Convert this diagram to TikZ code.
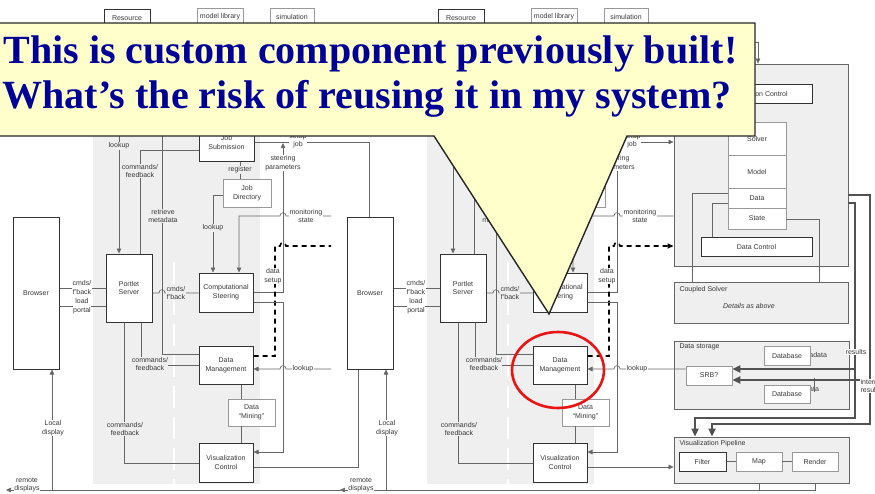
\documentclass[tikz,border=0pt]{standalone}
\usepackage{fontspec}
\setmainfont{Liberation Sans}
\newfontfamily\calloutfam{Liberation Serif}
\usetikzlibrary{arrows.meta}
\definecolor{bandc}{RGB}{239,239,239}
\definecolor{callfill}{RGB}{255,255,204}
\definecolor{calltext}{RGB}{0,0,153}
\definecolor{ringred}{RGB}{235,20,20}
\newcommand\dgmfont{\fontsize{7}{8.8}\selectfont}
\newcommand\callfont{\calloutfam\bfseries\fontsize{40}{41}\selectfont}
\newcommand\mybox[7]{\node[#1, minimum width={(#5)-(#3)}, minimum height={(#6)-(#4)}] (#2) at ({((#3)+(#5))/2},{((#4)+(#6))/2}) {#7};}
\newcommand\rt[1]{#1}
\tikzset{
  dtext/.style={font=\dgmfont, text=black!78, align=center},
  bx/.style={draw=black!80, line width=1pt, fill=white, dtext, inner sep=0pt},
  lbx/.style={draw=black!40, line width=0.7pt, fill=white, dtext, inner sep=0pt},
  gbx/.style={draw=black!60, line width=0.9pt, fill=bandc, inner sep=0pt},
  conn/.style={draw=black!60, line width=0.6pt},
  arr/.style={conn, -{Triangle[length=5pt,width=4.5pt]}},
  lbl/.style={dtext, fill=white, inner sep=0.4pt},
  lblg/.style={dtext, fill=bandc, inner sep=0.4pt},
  dsh/.style={draw=black, line width=1.6pt, dash pattern=on 5pt off 4pt},
  thk/.style={draw=black!68, line width=2.2pt},
  thkarr/.style={thk, -{Triangle[length=8pt,width=7pt]}},
  callout/.style={draw=black!85, line width=1.4pt, fill=callfill},
  ctext/.style={font=\callfont, text=calltext, inner sep=0pt},
}
\newcommand\diagram{%
\fill[bandc] (427,125) rectangle (594,484);
\draw[white, line width=2pt, dash pattern=on 22pt off 9pt] (508,262) -- (508,484);
\mybox{bx}{res}{438}{9}{484}{27}{Resource}
\mybox{lbx}{mlib}{531}{8}{577}{26}{model library}
\mybox{lbx}{sim}{604}{8}{648}{26}{simulation}
\mybox{bx}{brow}{347}{217}{393}{369}{Browser}
\mybox{bx}{port}{440}{254}{486}{322}{Portlet\\Server}
\mybox{bx}{jsub}{533}{124}{588}{161}{Job\\Submission}
\mybox{lbx}{jdir}{557}{179}{605}{207}{Job\\Directory}
\mybox{bx}{cst}{533}{273}{587}{312}{Computational\\Steering}
\mybox{bx}{dmg}{533}{346}{587}{384}{Data\\Management}
\mybox{lbx}{mine}{562}{399}{609}{426}{Data\\“Mining”}
\mybox{bx}{vct}{533}{443}{587}{482}{Visualization\\Control}
% right part
\mybox{gbx}{simb}{674}{64}{848}{266}{}
\mybox{bx}{sctl}{706}{84}{812}{103}{\rt{Simulation Control}}
\mybox{lbx}{solv}{728}{122}{786}{155}{\rt{Solver}}
\mybox{lbx}{modl}{728}{155}{786}{188}{\rt{Model}}
\mybox{lbx}{datb}{728}{188}{786}{208}{\rt{Data}}
\mybox{lbx}{stat}{728}{208}{786}{229}{\rt{State}}
\mybox{bx}{dctl}{701}{237}{812}{256}{\rt{Data Control}}
\mybox{gbx}{cpl}{674}{282}{848}{323}{}
\node[dtext, anchor=west] (cplt) at (676,290) {\rt{Coupled Solver}};
\node[dtext, font=\dgmfont\itshape] (cpld) at (749,306) {\rt{Details as above}};
\mybox{gbx}{dsto}{674}{341}{849}{409}{}
\node[dtext, anchor=west] (dstot) at (676,347) {\rt{Data storage}};
\mybox{lbx}{srb}{686}{366}{732}{385}{\rt{SRB?}}
\node[dtext, anchor=east] (mdl) at (830.5,355) {\rt{metadata}};
\node[dtext, anchor=east] (dal) at (822.5,389) {\rt{data}};
\mybox{lbx}{db1}{764}{346}{810}{365}{\rt{Database}}
\mybox{lbx}{db2}{764}{385}{810}{403}{\rt{Database}}
\draw[conn] (814,378) -- (814,392);
\mybox{gbx}{vpip}{674}{437}{849}{483}{}
\node[dtext, anchor=west] (vpipt) at (676,444) {\rt{Visualization Pipeline}};
\mybox{bx}{filt}{679}{452}{726}{471}{\rt{Filter}}
\mybox{lbx}{map}{736}{452}{782}{471}{\rt{Map}}
\mybox{lbx}{rend}{792}{452}{838}{471}{\rt{Render}}
\draw[conn] (filt) -- (map);
\draw[conn] (map) -- (rend);
% connectors, left group
\draw[arr] (453,0 |- res.south) -- (453,0 |- port.north);
\node[lblg] (l1) at (453,146) {lookup};
\draw[conn] (474,0 |- port.north) -- (474,150) -- (jsub.west |- 0,150);
\node[lblg] (l2) at (474,171) {commands/\\feedback};
\draw[conn] (496,30) -- (496,354) -- (dmg.west |- 0,354);
\node[lblg] (l3) at (497,216) {retrieve\\metadata};
\draw[conn] (475,0 |- port.south) -- (475,365) -- (dmg.west |- 0,365);
\node[lblg] (l4) at (484,364) {commands/\\feedback};
\draw[conn] (458,0 |- port.south) -- (458,463) -- (vct.west |- 0,463);
\node[lblg] (l5) at (459,429) {commands/\\feedback};
\draw[conn] (brow.east |- 0,288) -- (port.west |- 0,288);
\node[lbl] (l6) at (416,287.5) {cmds/\\f'back};
\draw[conn] (brow.east |- 0,306) -- (port.west |- 0,306);
\node[lbl] (l7) at (416,306) {load\\portal};
\draw[conn] (port.east |- 0,293) -- (493,293) .. controls (493,288.5) and (499,288.5) .. (499,293) -- (cst.west |- 0,293);
\node[lblg] (l8) at (510,293) {cmds/\\f'back};
\draw[conn] (jsub.south -| 574,0) -- (jdir.north -| 574,0);
\node[lblg] (l9) at (574,170) {register};
\draw[arr] (jdir.west |- 0,195) -- (547,195) -- (547,0 |- cst.north);
\node[lblg] (l10) at (547,228) {lookup};
\draw[arr] (simb.west |- 0,216) -- (620,216) .. controls (620,211.5) and (614,211.5) .. (614,216) -- (573,216) -- (573,0 |- cst.north);
\node[lbl] (l11) at (640,216) {monitoring\\state};
\draw[arr] (cst.east |- 0,292) -- (617,292) -- (617,143);
\node[lbl] (l12) at (617,163) {steering\\parameters};
\draw[arr] (jsub.east |- 0,142) -- (simb.west |- 0,142);
\node[lbl] (l13) at (632,141) {setup\\job};
\draw[dsh, -{Triangle[length=6pt,width=5pt]}] (dmg.east |- 0,356) -- (609,356) -- (609,246) -- (614,246) .. controls (614,241.5) and (620,241.5) .. (620,246) -- (simb.west |- 0,246);
\node[lbl] (l14) at (607,276) {data\\setup};
\draw[arr] (cst.east |- 0,302) -- (617,302) -- (617,452) -- (vct.east |- 0,452);
\draw[arr] (srb.west |- 0,369) -- (620,369) .. controls (620,364.5) and (614,364.5) .. (614,369) -- (dmg.east |- 0,369);
\node[lbl] (l15) at (637,369) {lookup};
\draw[conn] (dmg.south -| 575,0) -- (mine.north -| 575,0);
\draw[conn] (mine.south -| 575,0) -- (vct.north -| 575,0);
\draw[arr] (vct.east |- 0,467) -- (vpip.west |- 0,467);
\draw[arr] (386,490) -- (386,0 |- brow.south);
\node[lbl] (l16) at (387,428) {Local\\display};
\draw[arr] (759,0 |- vpip.south) -- (759,490) -- (340,490);
\draw[conn] (815,0 |- vpip.south) -- (815,490) -- (759,490);
\node[lbl] (l17) at (361,485) {remote\\displays};
% right group
\draw[conn] (datb.west |- 0,193) -- (692,193) -- (692,0 |- cpl.north);
\draw[conn] (datb.west |- 0,203) -- (712,203) -- (712,0 |- dctl.north);
\draw[conn] (stat.east |- 0,219) -- (819,219) -- (819,0 |- cpl.north);
\draw[arr] (700,42) -- (758,42) -- (758,0 |- simb.north);
\draw[thkarr] (simb.east |- 0,195) -- (870,195) -- (870,424) -- (712,424) -- (712,0 |- vpip.north);
\draw[thkarr] (simb.east |- 0,203) -- (855,203) -- (855,418) -- (695,418) -- (695,0 |- vpip.north);
\draw[thkarr] (855,369) -- (srb.east |- 0,369);
\draw[thkarr] (880,380) -- (srb.east |- 0,380);
\node[lbl] (l18) at (856,352) {\rt{results}};
\node[lbl, anchor=west, align=left] (l19) at (860,386) {\rt{intermediate\\results}};
}
\begin{document}
\begin{tikzpicture}[x=1pt,y=-1pt]
\useasboundingbox (0,0) rectangle (875,493);
\clip (0,0) rectangle (875,493);
\fill[white] (0,0) rectangle (875,493);
\begin{scope}
  \clip (-400,0) rectangle (331,493);
  \begin{scope}[shift={(-334,0)}, name prefix=L-]
    \def\rt#1{}
    \diagram
  \end{scope}
\end{scope}
\begin{scope}[name prefix=R-]
  \diagram
\end{scope}
% joins between the two copies
\draw[conn] (331,142) -- (369,142) -- (369,0 |- R-brow.north);
\draw[conn] (331,467) -- (358,467) -- (358,0 |- R-brow.south);
\draw[conn] (331,490) -- (341,490);
% callout
\draw[callout] (-5,23) -- (755,23) -- (755,136) -- (627,136) -- (549,314) -- (434,136) -- (-5,136) -- cycle;
\node[ctext, anchor=base] (c1) at (370.5,63) {This is custom component previously built!};
\node[ctext, anchor=base] (c2) at (367,108) {What’s the risk of reusing it in my system?};
\draw[ringred, line width=2.6pt] (558,370) ellipse [x radius=46, y radius=38];
\end{tikzpicture}
\end{document}
